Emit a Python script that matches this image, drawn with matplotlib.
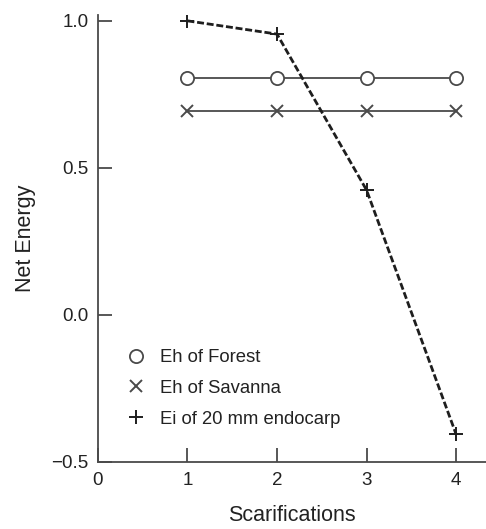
import matplotlib
matplotlib.use('Agg')
import matplotlib.pyplot as plt
import numpy as np

plt.rcParams['font.family'] = ['Liberation Sans', 'DejaVu Sans']

# data
scarif = [1, 2, 3, 4]
eh_forest = [0.805, 0.805, 0.805, 0.805]
eh_savanna = [0.695, 0.695, 0.695, 0.695]
ei_endocarp = [1.0, 0.955, 0.425, -0.405]
xticks = [0, 1, 2, 3, 4]
yticks = [-0.5, 0.0, 0.5, 1.0]

fig = plt.figure(figsize=(4.86, 5.29), dpi=100)
ax = fig.add_axes([0.2016, 0.1267, 0.7984, 0.845])

gray = '#4a4a4a'
ax.plot(scarif, eh_forest, color=gray, lw=1.3, zorder=2)
ax.plot(scarif, eh_savanna, color=gray, lw=1.3, zorder=2)
ax.plot(scarif, ei_endocarp, color='#1e1e1e', lw=2.0, ls=(0, (2.5, 1.0)), zorder=3)

h1 = ax.plot(scarif, eh_forest, ls='none', marker='o', ms=9.5, mfc='white',
             mec=gray, mew=1.3, label='Eh of Forest', zorder=4)[0]
h2 = ax.plot(scarif, eh_savanna, ls='none', marker='x', ms=9, mec=gray,
             mew=1.4, label='Eh of Savanna', zorder=4)[0]
h3 = ax.plot(scarif, ei_endocarp, ls='none', marker='+', ms=10, mec='#1e1e1e',
             mew=1.4, label='Ei of 20 mm endocarp', zorder=4)[0]

ax.set_xlim(0, 4.335)
ax.set_ylim(-0.5, 1.02)
ax.set_xticks(xticks)
ax.set_yticks(yticks)
ax.set_yticklabels(['\u22120.5', '0.0', '0.5', '1.0'])
ax.tick_params(direction='in', length=10, width=1.3, color=gray,
               labelsize=13.5, labelcolor='#222222', pad=7)
for s in ['top', 'right']:
    ax.spines[s].set_visible(False)
for s in ['left', 'bottom']:
    ax.spines[s].set_color(gray)
    ax.spines[s].set_linewidth(1.3)

ax.set_xlabel('Scarifications', fontsize=15.5, color='#222222', labelpad=12)
ax.set_ylabel('Net Energy', fontsize=15.5, color='#222222', labelpad=11)

ax.legend(handles=[h1, h2, h3], loc='upper left', bbox_to_anchor=(0.031, 0.29),
          frameon=False, fontsize=13.3, handlelength=1.0, handletextpad=0.8,
          labelspacing=0.75, labelcolor='#222222')

fig.savefig('out.png', dpi=100)
